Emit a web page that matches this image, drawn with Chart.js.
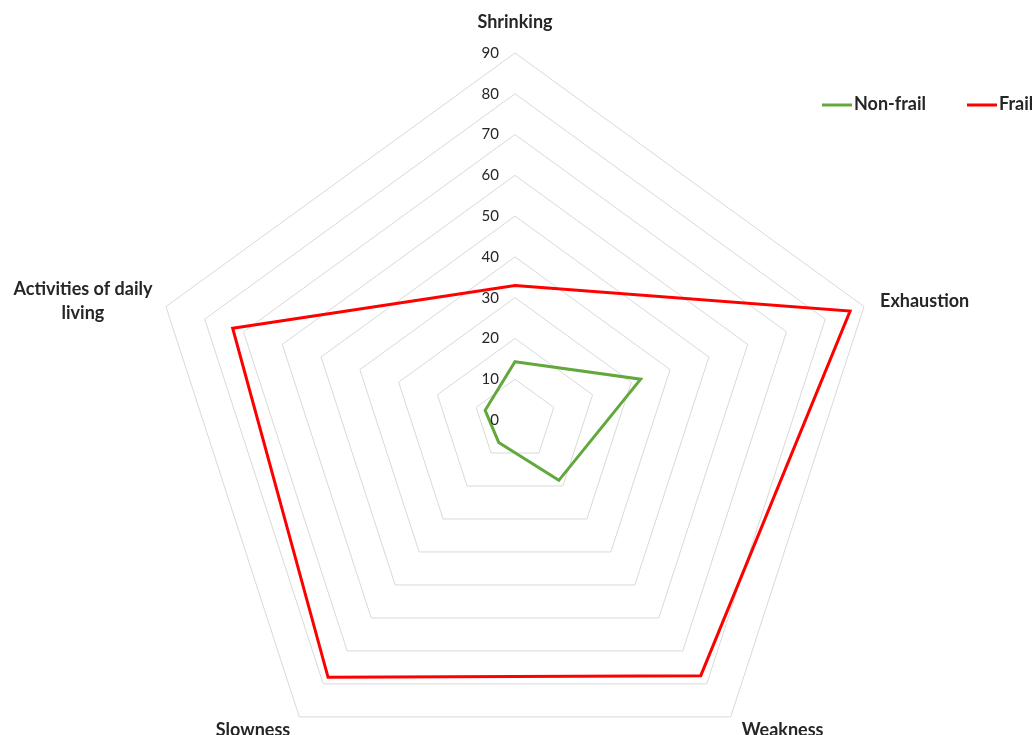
<!DOCTYPE html>
<html>
<head>
<meta charset="utf-8">
<script src="https://cdn.jsdelivr.net/npm/chart.js@4.4.0/dist/chart.umd.min.js"></script>
<style>
  html, body { margin: 0; padding: 0; background: #fff; overflow: hidden; }
  #wrap { position: relative; width: 1032px; height: 841px; }
</style>
</head>
<body>
<div id="wrap"><canvas id="myChart"></canvas></div>
<script>
const categories = ["Shrinking", "Exhaustion", "Weakness", "Slowness", ["Activities of daily", "living"]];
const nonFrail = [14.3, 32.4, 18.3, 6.8, 7.7];
const frail = [33, 86.4, 77.5, 78, 72.8];
const tickValues = [0, 10, 20, 30, 40, 50, 60, 70, 80, 90];

// where each category label sits relative to the outer vertex
const labelPlacement = [
  { dx: 0, dy: -31, align: "center" },
  { dx: 16, dy: -5, align: "left" },
  { dx: 11, dy: 13, align: "left" },
  { dx: -9, dy: 13, align: "right" },
  { dx: -83, dy: -5, align: "center" },
];

const textColor = "#262626";
const labelFont = "bold 18px Lato";
const tickFont = "15px Lato";

const extraText = {
  id: "extraText",
  afterDraw(chart) {
    const ctx = chart.ctx;
    const scale = chart.scales.r;
    ctx.save();
    ctx.fillStyle = textColor;

    // tick labels, left of the vertical axis
    ctx.font = tickFont;
    ctx.textAlign = "right";
    ctx.textBaseline = "middle";
    tickValues.forEach((v) => {
      const d = scale.getDistanceFromCenterForValue(v);
      ctx.fillText(String(v), scale.xCenter - 16, scale.yCenter - d);
    });

    // category labels
    ctx.font = labelFont;
    categories.forEach((label, i) => {
      const p = scale.getPointPositionForValue(i, scale.max);
      const pl = labelPlacement[i];
      const lines = Array.isArray(label) ? label : [label];
      ctx.textAlign = pl.align;
      const lh = 24;
      const y0 = p.y + pl.dy - ((lines.length - 1) * lh) / 2;
      lines.forEach((line, k) => {
        ctx.fillText(line, p.x + pl.dx, y0 + k * lh);
      });
    });

    // legend
    const legendX = [822, 967];
    const legendY = 105;
    chart.data.datasets.forEach((ds, i) => {
      ctx.strokeStyle = ds.borderColor;
      ctx.lineWidth = 3;
      ctx.beginPath();
      ctx.moveTo(legendX[i], legendY);
      ctx.lineTo(legendX[i] + 30, legendY);
      ctx.stroke();
      ctx.textAlign = "left";
      ctx.font = labelFont;
      ctx.fillText(ds.label, legendX[i] + 32, legendY - 1);
    });
    ctx.restore();
  },
};

new Chart(document.getElementById("myChart"), {
  type: "radar",
  data: {
    labels: categories,
    datasets: [
      {
        label: "Non-frail",
        data: nonFrail,
        borderColor: "#62A83C",
        borderWidth: 3,
        fill: false,
        pointRadius: 0,
        pointHoverRadius: 0,
      },
      {
        label: "Frail",
        data: frail,
        borderColor: "#FF0000",
        borderWidth: 3,
        fill: false,
        pointRadius: 0,
        pointHoverRadius: 0,
      },
    ],
  },
  options: {
    responsive: true,
    maintainAspectRatio: false,
    animation: false,
    layout: { padding: { left: 147, right: 149, top: 53, bottom: 53 } },
    elements: { line: { tension: 0, borderJoinStyle: "miter" } },
    plugins: {
      legend: { display: false },
      tooltip: { enabled: false },
    },
    scales: {
      r: {
        min: 0,
        max: 90,
        ticks: { display: false, stepSize: 10 },
        grid: { color: "#d9d9d9", lineWidth: 1 },
        angleLines: { display: false },
        pointLabels: { display: false },
      },
    },
  },
  plugins: [extraText],
});
</script>
</body>
</html>
